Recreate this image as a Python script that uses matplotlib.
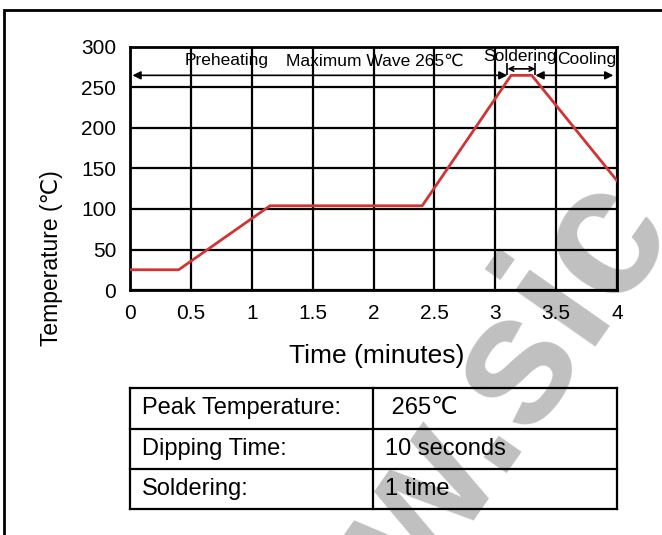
import matplotlib.pyplot as plt
from matplotlib.patches import Rectangle

plt.rcParams['font.family'] = ['Liberation Sans', 'DejaVu Sans']

# wave soldering profile
time_min = [0, 0.4, 1.15, 2.4, 3.13, 3.3, 4.0]
temp_c = [25, 25, 104, 104, 265, 265, 135]

x_ticks = [0, 0.5, 1, 1.5, 2, 2.5, 3, 3.5, 4]
x_tick_labels = ['0', '0.5', '1', '1.5', '2', '2.5', '3', '3.5', '4']
y_ticks = [0, 50, 100, 150, 200, 250, 300]

# zone labels and arrow spans (minutes)
zone_labels = ['Preheating', 'Maximum Wave 265\u2103', 'Soldering', 'Cooling']
zone_label_x = [0.79, 2.01, 3.2, 3.75]
preheat_span = (0.02, 3.1)
solder_span = (3.1, 3.33)
cooling_span = (3.33, 3.97)

table_keys = ['Peak Temperature:', 'Dipping Time:', 'Soldering:']
table_vals = [' 265\u2103', '10 seconds', '1 time']

W, H = 662, 535
fig = plt.figure(figsize=(W / 100, H / 100), dpi=100)

def fx(px):
    return px / W

def fy(py):
    return 1 - py / H

# outer frame
fig.patches.append(Rectangle((fx(4), fy(700)), 2, fy(10) - fy(700), transform=fig.transFigure,
                             fill=False, edgecolor='black', linewidth=2, zorder=5))

# watermark (runs off the picture)
fig.text(fx(340), fy(713), 'ww.sic', fontsize=133, fontweight='bold', color='#c0c0c0',
         rotation=55, rotation_mode='anchor', ha='left', va='baseline', zorder=-5)

ax = fig.add_axes([fx(130), fy(290), fx(617) - fx(130), fy(47) - fy(290)])
ax.patch.set_alpha(0)
ax.plot(time_min, temp_c, color='#d03434', linewidth=2, zorder=3)

ax.set_xlim(0, 4)
ax.set_ylim(0, 300)
ax.set_xticks(x_ticks)
ax.set_xticklabels(x_tick_labels)
ax.set_yticks(y_ticks)
ax.tick_params(length=0, labelsize=15, pad=10)
ax.grid(True, color='black', linewidth=1.6)
for s in ax.spines.values():
    s.set_linewidth(2)

# zone arrows
arrow_y = 265
ax.annotate('', xy=(preheat_span[0], arrow_y), xytext=(preheat_span[1], arrow_y),
            arrowprops=dict(arrowstyle='<|-|>', color='black', lw=1.2, mutation_scale=12,
                            shrinkA=0, shrinkB=0))
ax.annotate('', xy=(cooling_span[0], arrow_y), xytext=(cooling_span[1], arrow_y),
            arrowprops=dict(arrowstyle='<|-|>', color='black', lw=1.2, mutation_scale=12,
                            shrinkA=0, shrinkB=0))
ax.annotate('', xy=(solder_span[0], 273), xytext=(solder_span[1], 273),
            arrowprops=dict(arrowstyle='<->', color='black', lw=1.2, mutation_scale=8,
                            shrinkA=0, shrinkB=0))
ax.vlines(list(solder_span), 266, 280, color='black', linewidth=1.2)

label_y = [283, 283, 288, 284]
for lab, x, y in zip(zone_labels, zone_label_x, label_y):
    ax.text(x, y, lab, fontsize=12.5, ha='center', va='center')

fig.text(fx(377), fy(356), 'Time (minutes)', fontsize=19, ha='center', va='center')
fig.text(fx(52), fy(258), 'Temperature (\u2103)', fontsize=16.5, rotation=90,
         ha='center', va='center')

# parameter table
row_edges = [388, 428.5, 469, 509]
tab_left, tab_mid, tab_right = 130, 373, 617
tab = fig.add_axes([0, 0, 1, 1])
tab.set_xlim(0, W)
tab.set_ylim(H, 0)
tab.axis('off')
tab.patch.set_alpha(0)
for y in row_edges:
    tab.plot([tab_left, tab_right], [y, y], color='black', linewidth=1.6)
for x in [tab_left, tab_mid, tab_right]:
    tab.plot([x, x], [row_edges[0], row_edges[-1]], color='black', linewidth=1.6)
for i, (k, v) in enumerate(zip(table_keys, table_vals)):
    yc = (row_edges[i] + row_edges[i + 1]) / 2
    tab.text(tab_left + 12, yc, k, fontsize=17, ha='left', va='center')
    tab.text(tab_mid + 12, yc, v, fontsize=17, ha='left', va='center')

fig.savefig('out.png', dpi=100)
